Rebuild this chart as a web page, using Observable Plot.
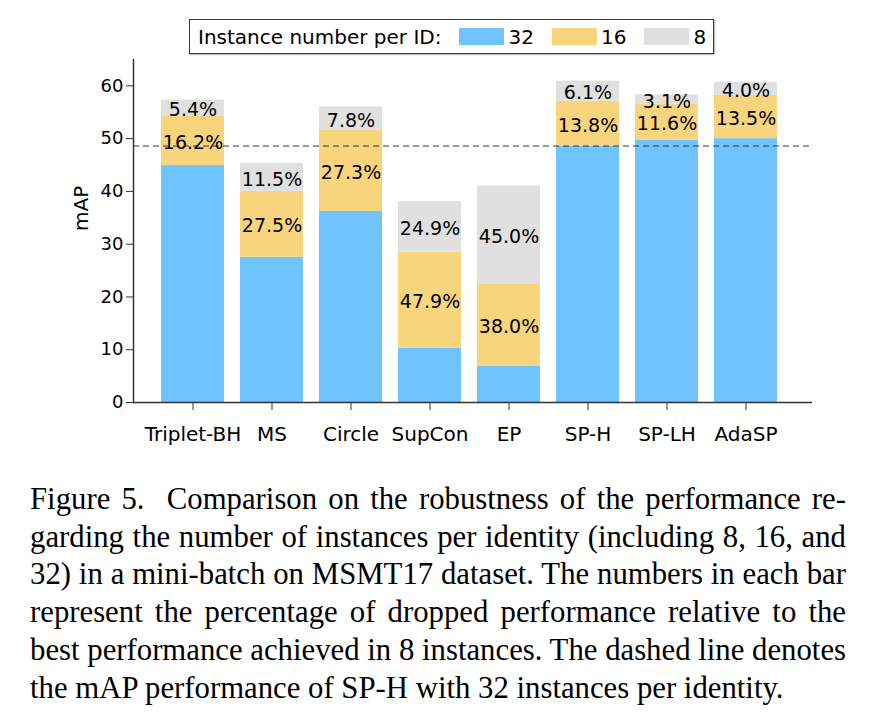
<!DOCTYPE html>
<html><head><meta charset="utf-8">
<script src="https://cdn.jsdelivr.net/npm/d3@7"></script>
<script src="https://cdn.jsdelivr.net/npm/@observablehq/plot@0.6"></script>
<style>
body{margin:0;background:#fff;width:874px;height:723px;position:relative;overflow:hidden;font-family:"DejaVu Sans",sans-serif;}
#chart{position:absolute;left:0;top:0;}
#legend{position:absolute;left:189px;top:19px;width:525px;height:35px;box-sizing:border-box;border:1.5px solid #3a3a3a;box-shadow:1px 1px 1px #bbb;display:flex;align-items:center;font-size:20px;padding-left:8px;color:#000;white-space:nowrap;}
#legend .sw{width:45px;height:17px;margin-left:18px;}
#legend .lb{margin-left:4px;}
#caption{position:absolute;left:30px;width:816px;font-family:"Liberation Serif","Times New Roman",serif;line-height:37.8px;color:#000;}
#caption div{text-align:justify;text-align-last:justify;white-space:nowrap;}
#caption div.last{text-align-last:left;}
</style>
</head><body>
<div id="chart"></div>
<div id="legend"></div>
<div id="caption"></div>
<script>
const methods = ["Triplet-BH","MS","Circle","SupCon","EP","SP-H","SP-LH","AdaSP"];
const map32 = [44.9, 27.5, 36.2, 10.3, 6.9, 48.6, 49.7, 50.0];
const map16 = [54.2, 40.0, 51.6, 28.5, 22.5, 57.1, 56.5, 58.2];
const map8  = [57.3, 45.3, 56.0, 38.1, 41.0, 60.9, 58.3, 60.7];
const drop16 = ["16.2%","27.5%","27.3%","47.9%","38.0%","13.8%","11.6%","13.5%"];
const drop8  = ["5.4%","11.5%","7.8%","24.9%","45.0%","6.1%","3.1%","4.0%"];
const keys = ["32","16","8"];
const colors = ["#6FC3FF","#F8D47D","#E0E0E0"];
const yTicks = [0,10,20,30,40,50,60];
const legendTitle = "Instance number per ID:";
const refMethod = "SP-H";
const captionLines = [
  "Figure 5.\u00a0 Comparison on the robustness of the performance re-",
  "garding the number of instances per identity (including 8, 16, and",
  "32) in a mini-batch on MSMT17 dataset. The numbers in each bar",
  "represent the percentage of dropped performance relative to the",
  "best performance achieved in 8 instances. The dashed line denotes",
  "the mAP performance of SP-H with 32 instances per identity."
];

const segs = [];
methods.forEach((m,i)=>{
  segs.push({m, key:"32", y1:0, y2:map32[i]});
  segs.push({m, key:"16", y1:map32[i], y2:map16[i], label:drop16[i]});
  segs.push({m, key:"8", y1:map16[i], y2:map8[i], label:drop8[i]});
});
const labeled = segs.filter(d=>d.label);
const refValue = map32[methods.indexOf(refMethod)];

const plot = Plot.plot({
  width: 874, height: 460,
  marginTop: 59, marginBottom: 58, marginLeft: 133, marginRight: 62,
  style: {fontFamily: "DejaVu Sans", color: "#000", background: "transparent"},
  x: {domain: methods, range: [149.4, 787.9], paddingInner: 0.2, paddingOuter: 0.1, label: null},
  y: {domain: [0, 65], label: null},
  color: {domain: keys, range: colors},
  marks: [
    Plot.barY(segs, {x: "m", y1: "y1", y2: "y2", fill: "key"}),
    Plot.ruleY([refValue], {stroke: "#333", strokeWidth: 1, strokeDasharray: "6,4"}),
    Plot.text(labeled, {x: "m", y: d => (d.y1 + d.y2) / 2, text: "label", fontSize: 19, dy: 2, fill: "#000"}),
    Plot.ruleY([0], {stroke: "#333", strokeWidth: 1.5}),
    Plot.frame({anchor: "left", stroke: "#333", strokeWidth: 1.5}),
    Plot.axisY({ticks: yTicks, tickSize: 7, tickPadding: 3, fontSize: 18, label: null, stroke: "#333", fill: "#000"}),
    Plot.axisX({tickSize: 8, tickPadding: 16, fontSize: 20, label: null, stroke: "#333", fill: "#000"}),
    Plot.text(["mAP"], {frameAnchor: "left", text: d => d, rotate: -90, dx: -52, fontSize: 20, fill: "#000"})
  ]
});
document.getElementById("chart").appendChild(plot);

const lg = d3.select("#legend");
lg.append("span").text(legendTitle);
keys.forEach((k,i)=>{
  lg.append("span").attr("class","sw").style("background", colors[i]);
  lg.append("span").attr("class","lb").text(k);
});

// caption: size the serif text so the last line spans like the reference
const capWidth = 816, lastLineWidth = 755, firstBaseline = 510, lineH = 37.8;
const ctx = document.createElement("canvas").getContext("2d");
const measure = (t, fs) => { ctx.font = `${fs}px "Liberation Serif"`; return ctx.measureText(t).width; };
const fs = Math.min(31, lastLineWidth / measure(captionLines[captionLines.length-1], 1));
const cap = d3.select("#caption").style("font-size", fs + "px")
  .style("top", (firstBaseline - ((lineH - 1.107*fs)/2 + 0.891*fs)) + "px");
captionLines.forEach((t,i)=>{
  const div = cap.append("div").attr("class", i === captionLines.length-1 ? "last" : null).text(t);
  const w = measure(t, fs);
  const spaces = (t.match(/ /g) || []).length;
  if (w > capWidth - 2 && spaces) div.style("word-spacing", ((capWidth - 2 - w) / spaces) + "px");
});
</script>
</body></html>
